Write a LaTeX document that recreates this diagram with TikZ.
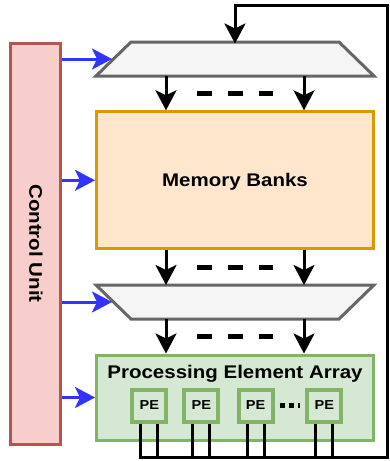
\documentclass[tikz,border=0pt]{standalone}
\usepackage{fontspec}
\setmainfont{Liberation Sans}[FakeStretch=1.12]
\usetikzlibrary{positioning, arrows.meta, shapes.geometric, calc}

\definecolor{cufill}{HTML}{F8CECC}
\definecolor{culine}{HTML}{B85450}
\definecolor{memfill}{HTML}{FFE6CC}
\definecolor{memline}{HTML}{D79B00}
\definecolor{muxfill}{HTML}{F5F5F5}
\definecolor{muxline}{HTML}{666666}
\definecolor{pefill}{HTML}{D5E8D4}
\definecolor{peline}{HTML}{82B366}
\definecolor{ctlblue}{HTML}{3333FF}

\begin{document}
\begin{tikzpicture}[x=1pt, y=-1pt,
    ctrl/.style={draw=culine, fill=cufill, line width=3pt,
                 minimum width=50pt, minimum height=401pt, inner sep=0pt},
    muxbox/.style={minimum width=278pt, minimum height=34pt, inner sep=0pt, outer sep=0pt},
    muxshape/.style={draw=muxline, fill=muxfill, line width=3pt},
    mem/.style={draw=memline, fill=memfill, line width=3pt,
                minimum width=277pt, minimum height=137pt, inner sep=0pt},
    pearr/.style={draw=peline, fill=pefill, line width=3pt,
                  minimum width=277pt, minimum height=85pt, inner sep=0pt},
    pe/.style={draw=peline, fill=pefill, line width=4pt,
               minimum width=34pt, minimum height=32pt, inner sep=0pt,
               font=\bfseries\fontsize{13}{15}\selectfont},
    lbl/.style={font=\bfseries\fontsize{18.3}{22}\selectfont, inner sep=0pt},
    flow/.style={line width=3pt, -{Stealth[length=20pt, width=21pt, inset=5pt]}},
    ctl/.style={line width=3pt, draw=ctlblue, -{Stealth[length=20pt, width=21pt, inset=5pt]}},
    gap/.style={line width=5pt, dash pattern=on 15pt off 16pt},
    dots/.style={line width=5pt, dash pattern=on 5pt off 4pt},
    wire/.style={line width=3pt},
]
\useasboundingbox (0,0) rectangle (390,461);

% === Control unit ===
\node[ctrl] (cu) at (35.8,243.5) {};
\node[lbl, rotate=-90] (cutext) at (cu) {Control Unit};

% === Datapath ===
% top mux (narrow side up)
\node[muxbox] (mux1) at (235,59) {};
\draw[muxshape] ([xshift=35pt]mux1.north west) -- ([xshift=-35pt]mux1.north east)
    -- (mux1.south east) -- (mux1.south west) -- cycle;
\node[mem] (mem) at (235,180.3) {};
\node[lbl] (memtext) at (235,182) {Memory Banks};
% lower mux (narrow side down)
\node[muxbox] (mux2) at (235,302) {};
\draw[muxshape] (mux2.north west) -- (mux2.north east)
    -- ([xshift=-35pt]mux2.south east) -- ([xshift=35pt]mux2.south west) -- cycle;
\node[pearr] (pea) at (235,397.5) {};
\node[lbl] (peatext) at (235,374) {Processing Element Array};

% PEs
\node[pe] (pe1) at (149.3,405.5) {PE};
\node[pe] (pe2) at (201.3,405.5) {PE};
\node[pe] (pe3) at (255.5,405.5) {PE};
\node[pe] (pe4) at (324.3,405.5) {PE};
\draw[dots] ([xshift=5pt]pe3.east) -- ([xshift=-5pt]pe4.west);

% vertical data arrows
\foreach \a/\b in {mux1.south/mem.north, mem.south/mux2.north, mux2.south/pea.north} {
  \draw[flow] ([xshift=-69pt]\a) -- ([xshift=-69pt]\a |- \b);
  \draw[flow] ([xshift=69pt]\a) -- ([xshift=69pt]\a |- \b);
  \draw[gap] ($(\a)!0.5!(\a |- \b)+(-38,0)$) -- ($(\a)!0.5!(\a |- \b)+(38,0)$);
}

% control lines
\draw[ctl] (cu.east |- mux1.west) -- ([xshift=16pt]mux1.west);
\draw[ctl] (cu.east |- mem.west) -- (mem.west);
\draw[ctl] (cu.east |- mux2.west) -- ([xshift=16pt]mux2.west);
\draw[ctl] (cu.east |- pea.west) -- (pea.west);

% feedback from PEs
\coordinate (busR) at (387,457);
\coordinate (fbR) at (387,5);
\foreach \p in {pe1,pe2,pe3,pe4} {
  \draw[wire] ([xshift=-8.5pt]\p.south) -- ([xshift=-8.5pt]\p.south |- busR);
  \draw[wire] ([xshift=8.5pt]\p.south) -- ([xshift=8.5pt]\p.south |- busR);
}
\draw[flow] ([xshift=-8.5pt]pe1.south) |- (busR) -- (fbR) -| ([yshift=-1.5pt]mux1.north);

\end{tikzpicture}
\end{document}
